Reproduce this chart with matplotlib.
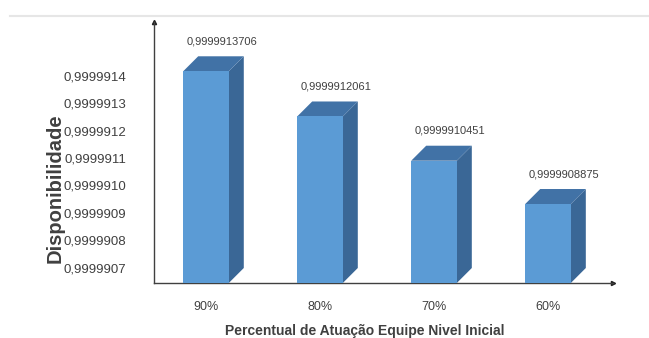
import matplotlib
matplotlib.use("Agg")
from matplotlib import pyplot as plt
from matplotlib.patches import Polygon
from matplotlib.lines import Line2D
from matplotlib.ticker import FixedLocator
import numpy as np


categories = ["90%", "80%", "70%", "60%"]
values = [0.9999913706, 0.9999912061, 0.9999910451, 0.9999908875]
value_labels = ["0,9999913706", "0,9999912061", "0,9999910451", "0,9999908875"]
tick_values = [0.9999907, 0.9999908, 0.9999909, 0.9999910,
               0.9999911, 0.9999912, 0.9999913, 0.9999914]
tick_labels = ["0,9999907", "0,9999908", "0,9999909", "0,9999910",
               "0,9999911", "0,9999912", "0,9999913", "0,9999914"]

plt.rcParams['font.family'] = ['Liberation Sans', 'DejaVu Sans']

W, H, DPI = 649, 338, 100
fig = plt.figure(figsize=(W / DPI, H / DPI), dpi=DPI)

# axes box in pixels (left, top, right, bottom)
L, T, R, B = 154, 22, 613, 283
ax = fig.add_axes([L / W, (H - B) / H, (R - L) / W, (B - T) / H])

ymin, ymax = 0.99999060, 0.99999155
xmin, xmax = -0.456, 3.570
ax.set_xlim(xmin, xmax)
ax.set_ylim(ymin, ymax)

front = "#5b9bd5"
side = "#3a6796"
top = "#4172a6"
width = 0.40
depth_px = 15
dx = depth_px * (xmax - xmin) / (R - L)
dy = depth_px * (ymax - ymin) / (B - T)

x = np.arange(len(categories))
ax.bar(x, [v - ymin for v in values], width, bottom=ymin, color=front,
       edgecolor="none", zorder=3)
for xi, v in zip(x, values):
    x0, x1 = xi - width / 2, xi + width / 2
    ax.add_patch(Polygon([(x1, ymin), (x1 + dx, ymin + dy), (x1 + dx, v + dy), (x1, v)],
                         closed=True, facecolor=side, edgecolor="none", zorder=2))
    ax.add_patch(Polygon([(x0, v), (x0 + dx, v + dy), (x1 + dx, v + dy), (x1, v)],
                         closed=True, facecolor=top, edgecolor="none", zorder=2))

for xi, v, lab in zip(x, values, value_labels):
    ax.annotate(lab, (xi, v), xytext=(11.5, 21.5), textcoords="offset points",
                ha="center", va="center", fontsize=8, color="#404040")

# tick labels sit slightly below their nominal value in the reference
label_shift = 0.45e-7
ax.yaxis.set_major_locator(FixedLocator([t - label_shift for t in tick_values]))
ax.set_yticklabels(tick_labels)
ax.set_xticks(x)
ax.set_xticklabels(categories)
ax.tick_params(axis="y", length=0, pad=20, labelsize=9.5, labelcolor="#404040")
ax.tick_params(axis="x", length=0, pad=13, labelsize=9, labelcolor="#404040")

for s in ["top", "right"]:
    ax.spines[s].set_visible(False)
for s in ["left", "bottom"]:
    ax.spines[s].set_color("#404040")
    ax.spines[s].set_linewidth(1.0)
ax.plot(1, 0, ">", color="#202020", ms=3, transform=ax.transAxes, clip_on=False)
ax.plot(0, 1, "^", color="#202020", ms=3, transform=ax.transAxes, clip_on=False)

ax.set_xlabel("Percentual de Atuação Equipe Nivel Inicial", fontsize=10,
              fontweight="bold", color="#404040")
ax.xaxis.set_label_coords(0.46, -0.182)
ax.xaxis.label.set_va("center")
ax.set_ylabel("Disponibilidade", fontsize=14.5, fontweight="bold", color="#404040")
ax.yaxis.set_label_coords(-0.216, 0.364)
ax.yaxis.label.set_va("center")

fig.add_artist(Line2D([10 / W, 1], [(H - 16) / H] * 2, color="#e6e6e6", lw=1.5))

fig.savefig("out.png", dpi=DPI)
